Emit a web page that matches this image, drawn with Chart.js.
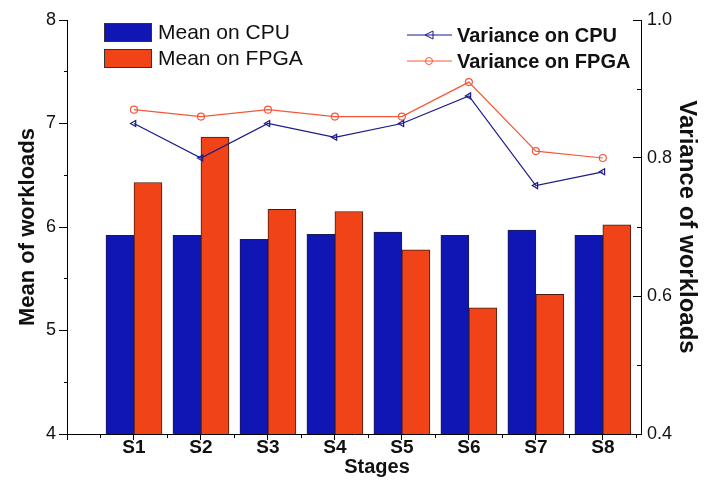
<!DOCTYPE html>
<html>
<head>
    <title>Mean and Variance of Workloads</title>
    <script src="https://cdn.jsdelivr.net/npm/chart.js"></script>
    <style>
        body { margin: 0; background: #fff; }
        #wrap { width: 704px; height: 482px; }
    </style>
</head>
<body>
    <div id="wrap"><canvas id="workloadChart"></canvas></div>
</body>
<script>
    var stages = ['S1', 'S2', 'S3', 'S4', 'S5', 'S6', 'S7', 'S8'];
    var meanCpu = [5.92, 5.92, 5.88, 5.93, 5.95, 5.92, 5.97, 5.92];
    var meanFpga = [6.43, 6.87, 6.17, 6.15, 5.78, 5.22, 5.35, 6.02];
    var varCpu = [0.85, 0.80, 0.85, 0.83, 0.85, 0.89, 0.76, 0.78];
    var varFpga = [0.87, 0.86, 0.87, 0.86, 0.86, 0.91, 0.81, 0.80];

    var FONT = '"Liberation Sans", Arial, sans-serif';

    function points(values) {
        return values.map(function (v, i) { return { x: i + 1, y: v }; });
    }

    // two separate legend blocks and the x title, drawn on the canvas
    var legendPlugin = {
        id: 'twoLegends',
        afterDraw: function (chart) {
            var c = chart.ctx;
            var ds = chart.data.datasets;
            c.save();
            c.textBaseline = 'middle';
            c.font = '21px ' + FONT;
            [0, 1].forEach(function (i) {
                var y = 23 + i * 26;
                c.fillStyle = ds[i].backgroundColor;
                c.fillRect(104, y, 48, 19);
                c.strokeStyle = '#333';
                c.lineWidth = 1;
                c.strokeRect(104.5, y + 0.5, 47, 18);
                c.fillStyle = '#111';
                c.fillText(ds[i].label, 158, y + 10);
            });
            c.font = 'bold 20px ' + FONT;
            [2, 3].forEach(function (i, k) {
                var y = 35 + k * 26;
                c.strokeStyle = ds[i].borderColor;
                c.lineWidth = 1;
                c.beginPath();
                c.moveTo(407, y);
                c.lineTo(452, y);
                c.stroke();
                if (i === 2) {
                    c.beginPath();
                    c.moveTo(425, y);
                    c.lineTo(433, y - 4);
                    c.lineTo(433, y + 4);
                    c.closePath();
                    c.stroke();
                } else {
                    c.beginPath();
                    c.arc(429, y, 3.5, 0, Math.PI * 2);
                    c.stroke();
                }
                c.fillStyle = '#111';
                c.fillText(ds[i].label, 457, y + 1);
            });
            c.font = 'bold 20px ' + FONT;
            c.textAlign = 'center';
            c.fillText('Stages', 377, 467);
            c.restore();
        }
    };

    function isMajor(v, step) {
        return Math.abs(Math.round(v / step) * step - v) < 1e-6;
    }

    var ctx = document.getElementById('workloadChart').getContext('2d');
    var workloadChart = new Chart(ctx, {
        type: 'bar',
        data: {
            datasets: [{
                label: 'Mean on CPU',
                data: points(meanCpu),
                backgroundColor: '#1016b4',
                borderColor: '#1c1c50',
                borderWidth: 1,
                barThickness: 28,
                yAxisID: 'y',
                order: 2
            }, {
                label: 'Mean on FPGA',
                data: points(meanFpga),
                backgroundColor: '#f04418',
                borderColor: '#4a1a0c',
                borderWidth: 1,
                barThickness: 28,
                yAxisID: 'y',
                order: 2
            }, {
                type: 'line',
                label: 'Variance on CPU',
                data: points(varCpu),
                borderColor: '#1a1a8a',
                backgroundColor: 'transparent',
                borderWidth: 1.2,
                pointStyle: 'triangle',
                pointRotation: -90,
                pointRadius: 3.5,
                pointBorderWidth: 1.2,
                yAxisID: 'y1',
                order: 1
            }, {
                type: 'line',
                label: 'Variance on FPGA',
                data: points(varFpga),
                borderColor: '#f4583a',
                backgroundColor: 'transparent',
                borderWidth: 1.2,
                pointStyle: 'circle',
                pointRadius: 3.5,
                pointBorderWidth: 1.2,
                yAxisID: 'y1',
                order: 1
            }]
        },
        options: {
            responsive: true,
            maintainAspectRatio: false,
            animation: false,
            layout: { padding: { top: 20, left: 0, right: 0, bottom: 0 } },
            plugins: {
                legend: { display: false },
                tooltip: { enabled: false }
            },
            scales: {
                x: {
                    type: 'linear',
                    offset: false,
                    min: 0,
                    max: 8.57,
                    afterBuildTicks: function (s) {
                        var t = [];
                        for (var v = 0; v <= stages.length + 0.5; v += 0.5) t.push({ value: v });
                        s.ticks = t;
                    },
                    afterFit: function (s) { s.height = 48; },
                    ticks: {
                        autoSkip: false,
                        maxRotation: 0,
                        padding: -4,
                        color: '#111',
                        font: { family: FONT, size: 19, weight: 'bold' },
                        callback: function (v) {
                            return Number.isInteger(v) && v >= 1 ? stages[v - 1] : '';
                        }
                    },
                    grid: {
                        offset: false,
                        drawOnChartArea: false,
                        drawTicks: true,
                        tickLength: 6,
                        tickColor: '#000',
                        tickBorderDash: function (c) {
                            return c.tick && isMajor(c.tick.value, 1) ? [] : [3, 100];
                        }
                    },
                    border: { display: true, color: '#000', width: 1 }
                },
                y: {
                    position: 'left',
                    min: 4,
                    max: 8,
                    afterFit: function (s) { s.width = 67; },
                    ticks: {
                        stepSize: 0.5,
                        padding: 3,
                        color: '#111',
                        font: { family: FONT, size: 18 },
                        callback: function (v) { return Number.isInteger(v) ? v : ''; }
                    },
                    grid: {
                        drawOnChartArea: false,
                        tickLength: 8,
                        tickColor: '#000',
                        tickBorderDash: function (c) {
                            return c.tick && isMajor(c.tick.value, 1) ? [] : [0, 5, 3, 100];
                        }
                    },
                    border: { display: true, color: '#000', width: 1 },
                    title: {
                        display: true,
                        text: 'Mean of workloads',
                        color: '#111',
                        padding: { top: 15, bottom: 0 },
                        font: { family: FONT, size: 22, weight: 'bold' }
                    }
                },
                y1: {
                    position: 'right',
                    min: 0.4,
                    max: 1.0,
                    afterFit: function (s) { s.width = 63; },
                    ticks: {
                        stepSize: 0.1,
                        padding: 6,
                        color: '#111',
                        font: { family: FONT, size: 18 },
                        callback: function (v) {
                            return isMajor(v, 0.2) ? v.toFixed(1) : '';
                        }
                    },
                    // ticks on this axis point inward: short dashes at the right end of each grid line
                    grid: {
                        drawTicks: false,
                        drawOnChartArea: true,
                        color: '#000'
                    },
                    border: {
                        display: true,
                        color: '#000',
                        width: 1,
                        dash: function (c) {
                            var area = c.chart.chartArea;
                            var w = area ? area.right - area.left : 574;
                            var len = c.tick && isMajor(c.tick.value, 0.2) ? 8 : 4;
                            return [0, w - len, len, 2000];
                        }
                    },
                    title: {
                        display: true,
                        text: 'Variance of workloads',
                        color: '#111',
                        padding: { top: 3, bottom: 0 },
                        font: { family: FONT, size: 24, weight: 'bold' }
                    }
                }
            }
        },
        plugins: [legendPlugin]
    });
</script>
</html>
